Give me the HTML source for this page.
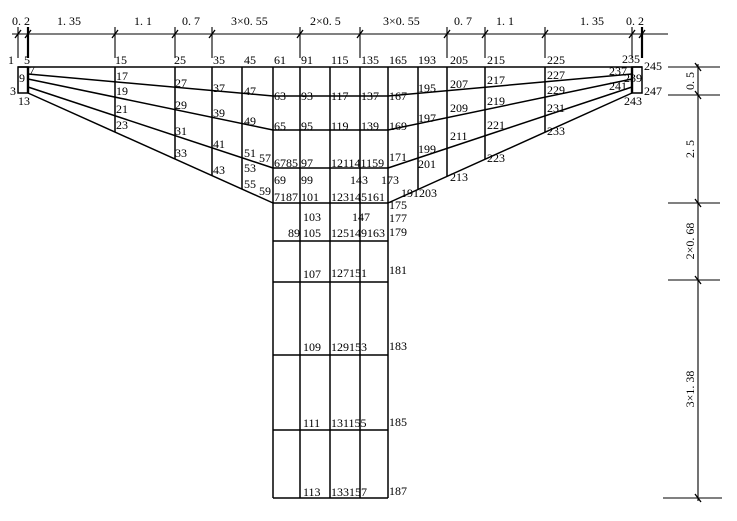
<!DOCTYPE html>
<html><head><meta charset="utf-8"><style>
html,body{margin:0;padding:0;background:#fff;}
svg{display:block;}
text{font-family:"Liberation Serif",serif;font-size:12px;fill:#000;}
.d{font-family:"Liberation Serif",serif;font-size:12px;}
</style></head><body>
<svg width="737" height="521" viewBox="0 0 737 521" xmlns="http://www.w3.org/2000/svg">
<g stroke="#000" stroke-width="1.5" fill="none">
<line x1="12" y1="34" x2="668" y2="34" stroke-width="1.1"/>
<g stroke-width="1.1">
<line x1="18" y1="27" x2="18" y2="58"/><line x1="28" y1="27" x2="28" y2="58" stroke-width="2.2"/>
<line x1="115" y1="27" x2="115" y2="58"/><line x1="175" y1="27" x2="175" y2="58"/>
<line x1="212" y1="27" x2="212" y2="58"/><line x1="300" y1="27" x2="300" y2="58"/>
<line x1="360" y1="27" x2="360" y2="58"/><line x1="447" y1="27" x2="447" y2="58"/>
<line x1="485" y1="27" x2="485" y2="58"/><line x1="545" y1="27" x2="545" y2="58"/>
<line x1="632" y1="27" x2="632" y2="58"/><line x1="642" y1="27" x2="642" y2="58" stroke-width="2.2"/>
</g>
<g stroke-width="1.3">
<line x1="15" y1="38" x2="21" y2="30"/><line x1="25" y1="38" x2="31" y2="30"/>
<line x1="112" y1="38" x2="118" y2="30"/><line x1="172" y1="38" x2="178" y2="30"/>
<line x1="209" y1="38" x2="215" y2="30"/><line x1="297" y1="38" x2="303" y2="30"/>
<line x1="357" y1="38" x2="363" y2="30"/><line x1="444" y1="38" x2="450" y2="30"/>
<line x1="482" y1="38" x2="488" y2="30"/><line x1="542" y1="38" x2="548" y2="30"/>
<line x1="629" y1="38" x2="635" y2="30"/><line x1="639" y1="38" x2="645" y2="30"/>
</g>
<line x1="698" y1="64" x2="698" y2="501" stroke-width="1.1"/>
<g stroke-width="1.1">
<line x1="668" y1="67" x2="720" y2="67"/><line x1="668" y1="95" x2="720" y2="95"/>
<line x1="668" y1="203" x2="720" y2="203"/><line x1="668" y1="280" x2="720" y2="280"/>
<line x1="663" y1="498" x2="722" y2="498"/>
</g>
<g stroke-width="1.3">
<line x1="695" y1="63" x2="701" y2="71"/><line x1="695" y1="91" x2="701" y2="99"/>
<line x1="695" y1="199" x2="701" y2="207"/><line x1="695" y1="276" x2="701" y2="284"/>
<line x1="695" y1="494" x2="701" y2="502"/>
</g>
<line x1="18" y1="67" x2="642" y2="67"/>
<rect x="18" y="67" width="10" height="26"/>
<rect x="632" y="67" width="10" height="26"/>
<line x1="28" y1="67" x2="28" y2="93" stroke-width="2.4"/>
<line x1="632" y1="67" x2="632" y2="93" stroke-width="2.4"/>
<line x1="28" y1="74" x2="273" y2="96"/>
<line x1="28" y1="79" x2="273" y2="130"/>
<line x1="28" y1="87" x2="273" y2="168"/>
<line x1="28" y1="93" x2="273" y2="203"/>
<line x1="632" y1="74" x2="388" y2="96"/>
<line x1="632" y1="79" x2="388" y2="130"/>
<line x1="632" y1="87" x2="388" y2="168"/>
<line x1="632" y1="93" x2="388" y2="203"/>
<line x1="115" y1="67" x2="115" y2="132"/>
<line x1="175" y1="67" x2="175" y2="159"/>
<line x1="212" y1="67" x2="212" y2="176"/>
<line x1="242" y1="67" x2="242" y2="189"/>
<line x1="545" y1="67" x2="545" y2="132"/>
<line x1="485" y1="67" x2="485" y2="159"/>
<line x1="447" y1="67" x2="447" y2="176"/>
<line x1="418" y1="67" x2="418" y2="189"/>
<line x1="273" y1="67" x2="273" y2="498"/>
<line x1="300" y1="67" x2="300" y2="498"/>
<line x1="330" y1="67" x2="330" y2="498"/>
<line x1="360" y1="67" x2="360" y2="498"/>
<line x1="388" y1="67" x2="388" y2="498"/>
<line x1="273" y1="96" x2="388" y2="96"/>
<line x1="273" y1="130" x2="388" y2="130"/>
<line x1="273" y1="168" x2="388" y2="168"/>
<line x1="273" y1="203" x2="388" y2="203"/>
<line x1="273" y1="241" x2="388" y2="241"/>
<line x1="273" y1="282" x2="388" y2="282"/>
<line x1="273" y1="355" x2="388" y2="355"/>
<line x1="273" y1="430" x2="388" y2="430"/>
<line x1="273" y1="498" x2="388" y2="498"/>
</g>
<g>
<text x="12" y="25" class="d">0. 2</text>
<text x="57" y="25" class="d">1. 35</text>
<text x="134" y="25" class="d">1. 1</text>
<text x="182" y="25" class="d">0. 7</text>
<text x="231" y="25" class="d">3×0. 55</text>
<text x="310" y="25" class="d">2×0. 5</text>
<text x="383" y="25" class="d">3×0. 55</text>
<text x="454" y="25" class="d">0. 7</text>
<text x="496" y="25" class="d">1. 1</text>
<text x="580" y="25" class="d">1. 35</text>
<text x="626" y="25" class="d">0. 2</text>
<text class="d" transform="translate(694,81) rotate(-90)" text-anchor="middle">0. 5</text>
<text class="d" transform="translate(694,149) rotate(-90)" text-anchor="middle">2. 5</text>
<text class="d" transform="translate(694,241) rotate(-90)" text-anchor="middle">2×0. 68</text>
<text class="d" transform="translate(694,389) rotate(-90)" text-anchor="middle">3×1. 38</text>
</g>
<g>
<text x="8" y="64">1</text><text x="24" y="64">5</text><text x="115" y="64">15</text>
<text x="174" y="64">25</text><text x="213" y="64">35</text><text x="244" y="64">45</text>
<text x="274" y="64">61</text><text x="301" y="64">91</text><text x="331" y="64">115</text>
<text x="361" y="64">135</text><text x="389" y="64">165</text><text x="418" y="64">193</text>
<text x="450" y="64">205</text><text x="487" y="64">215</text><text x="547" y="64">225</text>
<text x="622" y="63">235</text><text x="644" y="70">245</text>
<text x="19" y="82">9</text><text x="29" y="74">7</text><text x="10" y="95">3</text><text x="18" y="105">13</text>
<text x="116" y="80">17</text><text x="116" y="95">19</text><text x="116" y="113">21</text><text x="116" y="129">23</text>
<text x="175" y="87">27</text><text x="175" y="109">29</text><text x="175" y="135">31</text><text x="175" y="157">33</text>
<text x="213" y="92">37</text><text x="213" y="117">39</text><text x="213" y="148">41</text><text x="213" y="174">43</text>
<text x="244" y="95">47</text><text x="244" y="125">49</text><text x="244" y="157">51</text><text x="244" y="172">53</text>
<text x="244" y="188">55</text><text x="259" y="162">57</text><text x="259" y="195">59</text>
<text x="274" y="100">63</text><text x="274" y="130">65</text><text x="274" y="167">6785</text>
<text x="274" y="184">69</text><text x="274" y="201">7187</text>
<text x="301" y="100">93</text><text x="301" y="130">95</text><text x="301" y="167">97</text>
<text x="301" y="184">99</text><text x="301" y="201">101</text>
<text x="331" y="100">117</text><text x="331" y="130">119</text><text x="331" y="167">121141159</text>
<text x="350" y="184">143</text><text x="331" y="201">123145161</text>
<text x="361" y="100">137</text><text x="361" y="130">139</text>
<text x="389" y="100">167</text><text x="389" y="130">169</text><text x="389" y="161">171</text>
<text x="381" y="184">173</text><text x="389" y="209">175</text><text x="389" y="222">177</text>
<text x="389" y="236">179</text><text x="389" y="274">181</text><text x="389" y="350">183</text>
<text x="389" y="426">185</text><text x="389" y="495">187</text>
<text x="401" y="197">191</text><text x="419" y="197">203</text>
<text x="418" y="92">195</text><text x="418" y="122">197</text><text x="418" y="153">199</text><text x="418" y="168">201</text>
<text x="450" y="88">207</text><text x="450" y="112">209</text><text x="450" y="140">211</text><text x="450" y="181">213</text>
<text x="487" y="84">217</text><text x="487" y="105">219</text><text x="487" y="129">221</text><text x="487" y="162">223</text>
<text x="547" y="79">227</text><text x="547" y="94">229</text><text x="547" y="112">231</text><text x="547" y="135">233</text>
<text x="609" y="75">237</text><text x="624" y="82">239</text><text x="609" y="90">241</text>
<text x="624" y="105">243</text><text x="644" y="95">247</text>
<text x="303" y="221">103</text><text x="303" y="237">105</text><text x="288" y="237">89</text>
<text x="352" y="221">147</text><text x="331" y="237">125149163</text>
<text x="303" y="278">107</text><text x="331" y="277">127151</text>
<text x="303" y="351">109</text><text x="331" y="351">129153</text>
<text x="303" y="427">111</text><text x="331" y="427">131155</text>
<text x="303" y="496">113</text><text x="331" y="496">133157</text>
</g>
</svg>
</body></html>
